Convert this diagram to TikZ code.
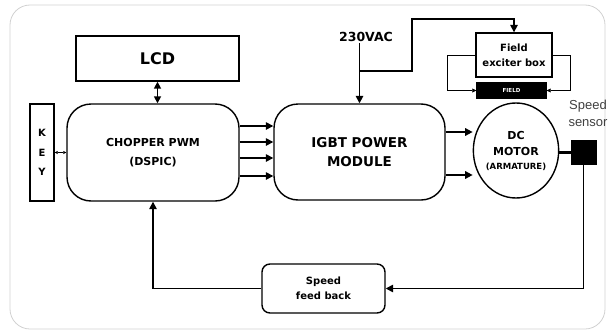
\documentclass[tikz,border=0pt]{standalone}
\usepackage{fontspec}
\setmainfont{DejaVu Sans}
\newfontfamily\labfont{Liberation Sans}
\usetikzlibrary{arrows.meta,shapes.geometric}

\tikzset{
  block/.style={draw, line width=1.4pt, align=center, inner sep=0pt, font=\bfseries},
  conn/.style={line width=1.6pt, -{Triangle[length=7.5pt,width=7.5pt]}},
  thinconn/.style={line width=0.7pt, -{Triangle[length=4pt,width=4pt]}}
}

\begin{document}
\begin{tikzpicture}[x=1pt,y=-1pt]
        \useasboundingbox (0,0) rectangle (612,332);
        % Frame
        \draw[black!18, line width=0.8pt, rounded corners=20pt] (10,5) rectangle (605,329);
        % Blocks
        \node[block, minimum width=163pt, minimum height=45pt, font=\bfseries\fontsize{16}{18}\selectfont] (lcd) at (157.5,58.5) {LCD};
        \node[block, rounded corners=24pt, minimum width=172pt, minimum height=97pt, font=\bfseries\fontsize{11}{19}\selectfont] (chop) at (153,152.5) {CHOPPER PWM\\(DSPIC)};
        \node[block, minimum width=24pt, minimum height=97pt, font=\bfseries\fontsize{10}{19.5}\selectfont] (key) at (42,152.5) {K\\E\\Y};
        \node[block, rounded corners=24pt, minimum width=171pt, minimum height=96pt, font=\bfseries\fontsize{13.5}{19}\selectfont] (igbt) at (359.5,152) {IGBT POWER\\MODULE};
        \node[font=\bfseries\fontsize{12.5}{14}\selectfont, inner sep=1pt] (vac) at (366,37) {230VAC};
        \node[block, minimum width=76pt, minimum height=44pt, font=\bfseries\fontsize{10}{15}\selectfont] (exc) at (514,55) {Field\\exciter box};
        \node[block, fill=black, text=white, minimum width=69pt, minimum height=15pt, font=\bfseries\fontsize{5.5}{6}\selectfont] (field) at (511.5,90.5) {FIELD};
        \node[block, ellipse, minimum width=76pt, minimum height=95pt, font=\bfseries\fontsize{11}{16}\selectfont] (motor) at (516,150.5) {DC\\MOTOR\\[-2pt]{\fontsize{8.5}{10}\selectfont(ARMATURE)}};
        \node[draw, fill=black, minimum width=25pt, minimum height=24pt, inner sep=0pt] (sensor) at (583.5,152) {};
        \node[align=center, text=black!75, inner sep=0pt, font=\labfont\fontsize{13}{17}\selectfont] (slab) at (588,113) {Speed\\sensor};
        \node[block, rounded corners=8pt, minimum width=123pt, minimum height=49pt, font=\bfseries\fontsize{10}{14.5}\selectfont] (fb) at (323.5,288.5) {Speed\\feed back};
        % Helper coordinates
        \coordinate (split) at (359,71);
        \coordinate (top) at (412,19);
        \coordinate (fl) at (447,90.5);
        \coordinate (fr) at (570,90.5);
        % LCD and keys
        \draw[line width=1.6pt, {Triangle[length=7pt,width=7pt]}-{Triangle[length=7pt,width=7pt]}] (lcd.south) -- (lcd.south |- chop.north);
        \draw[line width=0.7pt, {Triangle[length=3pt,width=3pt]}-{Triangle[length=3pt,width=3pt]}] (key.east) -- (chop.west);
        % PWM signals
        \foreach \y [count=\i] in {126,142,158,176} {
          \coordinate (p\i) at (0,\y);
          \draw[conn] (chop.east |- p\i) -- (igbt.west |- p\i);
        }
        % Supply
        \draw[conn] (vac.south -| igbt.north) -- (igbt.north);
        \draw[conn] (split) -| (top) -| (exc.north);
        \draw[thinconn] (exc.west) -| (fl) -- (field.west);
        \draw[thinconn] (exc.east) -| (fr) -- (field.east);
        % Armature
        \coordinate (m1) at (0,132);
        \coordinate (m2) at (0,175);
        \draw[conn] (igbt.east |- m1) -- (m1 -| motor.west);
        \draw[conn] (igbt.east |- m2) -- (m2 -| motor.west);
        % Feedback loop
        \draw[line width=3pt] (sensor.west -| motor.east) -- (sensor.west);
        \draw[conn] (sensor.south) |- (fb.east);
        \draw[conn] (fb.west) -| (chop.south);
\end{tikzpicture}
\end{document}
